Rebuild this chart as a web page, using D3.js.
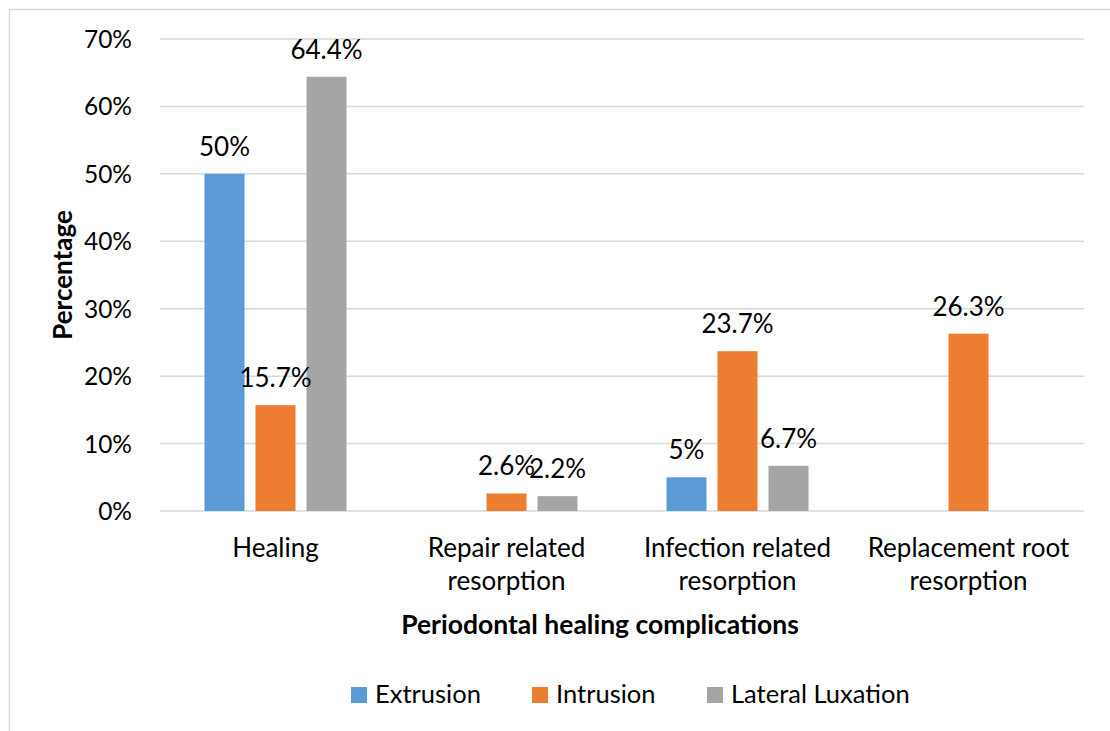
<html>
<head>
  <script src="https://d3js.org/d3.v7.min.js"></script>
  <style>
    body { margin: 0; background: #fff; }
    text { font-family: Lato, "Open Sans", sans-serif; fill: #000; }
  </style>
</head>
<body>
  <div id="chart"></div>
  <script>
    // chart data
    var categories = [["Healing"], ["Repair related", "resorption"], ["Infection related", "resorption"], ["Replacement root", "resorption"]];
    var series = ["Extrusion", "Intrusion", "Lateral Luxation"];
    var colors = ["#5B9BD5", "#ED7D31", "#A5A5A5"];
    var extrusion = [50, null, 5, null];
    var intrusion = [15.7, 2.6, 23.7, 26.3];
    var lateral = [64.4, 2.2, 6.7, null];
    var labels = [["50%", null, "5%", null], ["15.7%", "2.6%", "23.7%", "26.3%"], ["64.4%", "2.2%", "6.7%", null]];
    var yTicks = [0, 10, 20, 30, 40, 50, 60, 70];

    var values = [extrusion, intrusion, lateral];
    var W = 1110, H = 731;
    var plotL = 160, plotR = 1084, plotT = 39, plotB = 511;

    var svg = d3.select('#chart').append('svg')
                .attr('width', W).attr('height', H);

    // outer frame
    svg.append('rect')
       .attr('x', 9.5).attr('y', 9.5)
       .attr('width', 1200).attr('height', 800)
       .attr('fill', 'none').attr('stroke', '#d9d9d9').attr('stroke-width', 1.5);

    var x0 = d3.scaleBand().domain(d3.range(categories.length)).range([plotL, plotR]);
    var y = d3.scaleLinear().domain([0, 70]).range([plotB, plotT]);

    // gridlines
    svg.selectAll('.grid').data(yTicks).enter().append('line')
       .attr('x1', plotL).attr('x2', plotR)
       .attr('y1', function(d) { return y(d); })
       .attr('y2', function(d) { return y(d); })
       .attr('stroke', '#d9d9d9').attr('stroke-width', 1.5);

    // y tick labels
    svg.selectAll('.ytick').data(yTicks).enter().append('text')
       .attr('x', 132).attr('y', function(d) { return y(d) + 9; })
       .attr('text-anchor', 'end')
       .style('font-size', '24.5px')
       .text(function(d) { return d + '%'; });

    // bars
    var groupW = 142;
    categories.forEach(function(cat, ci) {
      var cx = x0(ci) + x0.bandwidth() / 2;
      var x1 = d3.scaleBand().domain(d3.range(series.length))
                 .range([cx - groupW / 2, cx + groupW / 2])
                 .paddingInner(11 / 51);
      values.forEach(function(vals, si) {
        var v = vals[ci];
        if (v == null) return;
        svg.append('rect')
           .attr('x', x1(si)).attr('width', x1.bandwidth())
           .attr('y', y(v)).attr('height', y(0) - y(v))
           .attr('fill', colors[si]);
      });
      values.forEach(function(vals, si) {
        var v = vals[ci];
        if (v == null) return;
        svg.append('text')
           .attr('x', x1(si) + x1.bandwidth() / 2)
           .attr('y', y(v) - 18)
           .attr('text-anchor', 'middle')
           .style('font-size', '26px')
           .text(labels[si][ci]);
      });
      // category label
      var t = svg.append('text')
                 .attr('x', cx).attr('y', 557)
                 .attr('text-anchor', 'middle')
                 .style('font-size', '26px');
      cat.forEach(function(line, li) {
        t.append('tspan').attr('x', cx).attr('dy', li === 0 ? 0 : 33).text(line);
      });
    });

    // axis titles
    svg.append('text')
       .attr('transform', 'translate(72,' + ((plotT + plotB) / 2) + ') rotate(-90)')
       .attr('text-anchor', 'middle')
       .style('font-size', '26px').style('font-weight', 'bold')
       .text('Percentage');

    svg.append('text')
       .attr('x', 600).attr('y', 634)
       .attr('text-anchor', 'middle')
       .style('font-size', '26.5px').style('font-weight', 'bold')
       .text('Periodontal healing complications');

    // legend
    var legendX = [351, 532, 707];
    series.forEach(function(s, i) {
      svg.append('rect')
         .attr('x', legendX[i]).attr('y', 687)
         .attr('width', 16).attr('height', 16)
         .attr('fill', colors[i]);
      svg.append('text')
         .attr('x', legendX[i] + 24).attr('y', 703)
         .style('font-size', '25.5px')
         .text(s);
    });
  </script>
</body>
</html>
